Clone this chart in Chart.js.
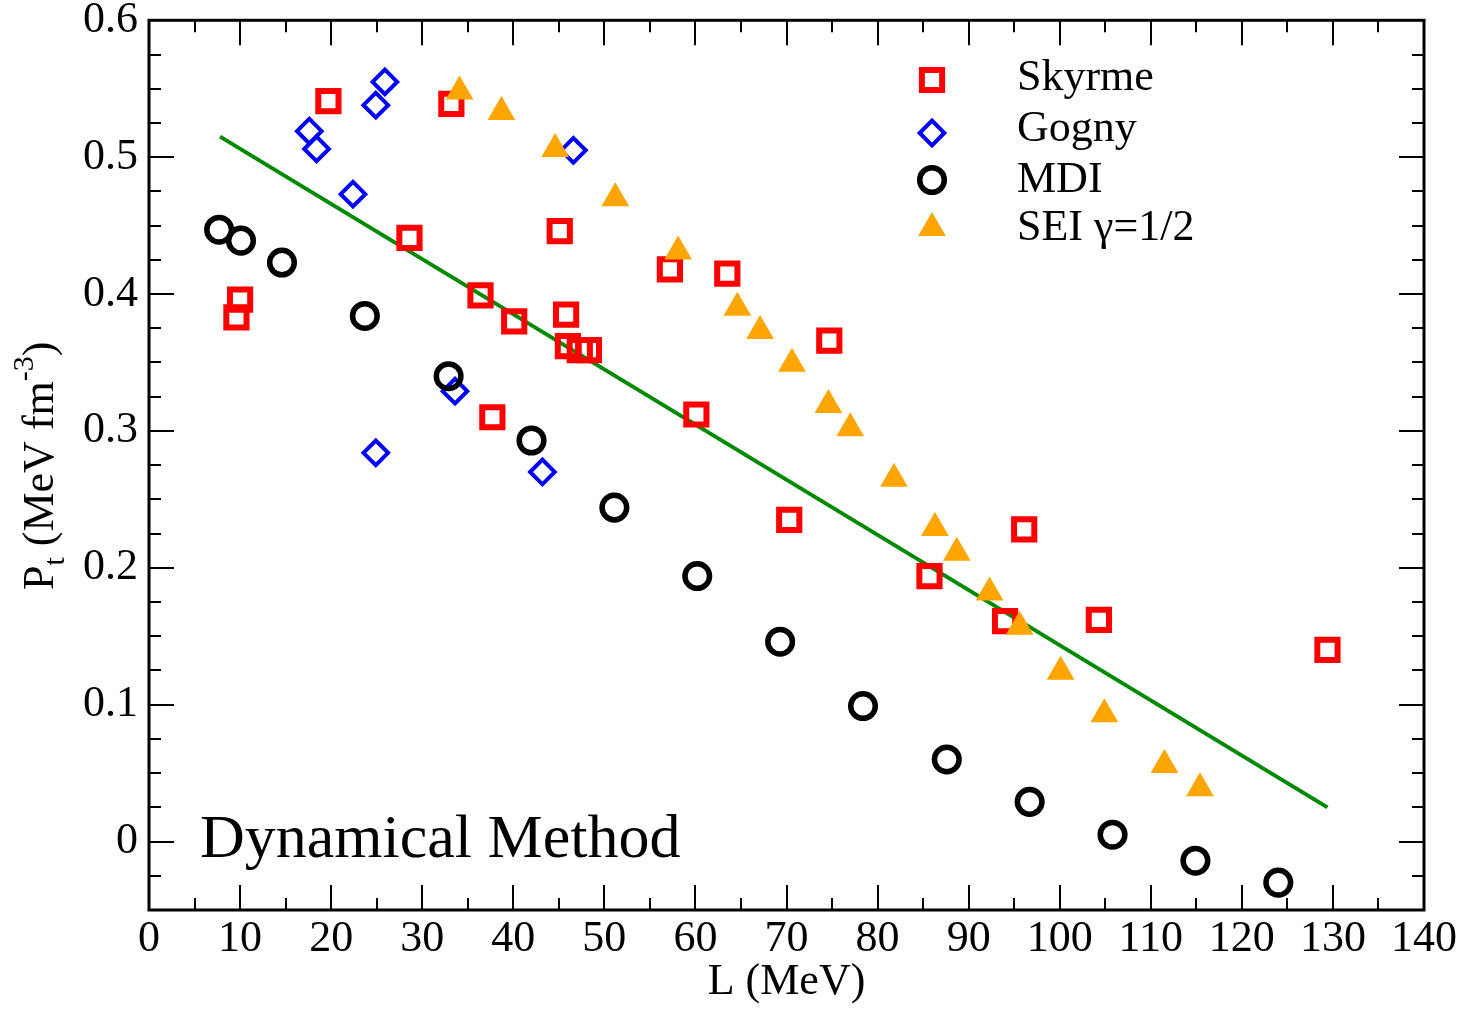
<!DOCTYPE html>
<html>
<head>
<meta charset="utf-8">
<script src="https://cdn.jsdelivr.net/npm/chart.js@4/dist/chart.umd.min.js"></script>
<style>
html,body{margin:0;padding:0;background:#fff;}
#wrap{width:1461px;height:1009px;}
</style>
</head>
<body>
<div id="wrap"><canvas id="c" width="1461" height="1009"></canvas></div>
<script>
// ---- data ----
const seriesNames = ['Skyrme', 'Gogny', 'MDI', 'SEI \u03b3=1/2'];

const skyrmeL = [9.6, 10.0, 19.7, 28.6, 33.2, 36.4, 40.1, 37.7, 45.1, 45.8, 46.0, 47.3, 48.3, 57.2, 60.1, 63.5, 70.3, 74.7, 85.7, 96.1, 94.0, 104.3, 129.4];
const skyrmeP = [0.383, 0.396, 0.541, 0.441, 0.539, 0.399, 0.380, 0.310, 0.446, 0.385, 0.362, 0.359, 0.359, 0.418, 0.312, 0.415, 0.235, 0.366, 0.194, 0.228, 0.161, 0.162, 0.140];

const gognyL = [25.9, 24.9, 17.6, 18.4, 22.4, 46.6, 33.6, 24.9, 43.2];
const gognyP = [0.555, 0.538, 0.519, 0.506, 0.473, 0.505, 0.329, 0.284, 0.270];

const mdiL = [7.7, 10.1, 14.6, 23.7, 32.9, 42.0, 51.1, 60.2, 69.3, 78.4, 87.6, 96.7, 105.8, 114.9, 124.0];
const mdiP = [0.447, 0.439, 0.423, 0.384, 0.340, 0.293, 0.244, 0.194, 0.146, 0.099, 0.060, 0.029, 0.005, -0.014, -0.030];

const seiL = [34.1, 38.7, 44.6, 51.2, 58.1, 64.6, 67.1, 70.6, 74.6, 77.0, 81.8, 86.3, 88.7, 92.3, 95.6, 100.1, 104.9, 111.5, 115.4];
const seiP = [0.548, 0.533, 0.506, 0.470, 0.431, 0.390, 0.373, 0.349, 0.319, 0.302, 0.265, 0.229, 0.211, 0.182, 0.157, 0.124, 0.093, 0.056, 0.039];

const fitL = [7.8, 129.4];
const fitP = [0.515, 0.025];

const xTickValues = [0, 10, 20, 30, 40, 50, 60, 70, 80, 90, 100, 110, 120, 130, 140];
const yTickValues = [0, 0.1, 0.2, 0.3, 0.4, 0.5, 0.6];
const xMinorStep = 5;
const yMinorStep = 0.025;

const xTitle = 'L (MeV)';
const annotationText = 'Dynamical Method';

// ---- helpers ----
const FAMILY = "'Liberation Serif', 'Times New Roman', Times, serif";
function zip(xs, ys) { return xs.map((x, i) => ({ x: x, y: ys[i] })); }

const datasets = [
  { label: seriesNames[0], data: zip(skyrmeL, skyrmeP), pointStyle: 'rect', pointRadius: 14.3,
    borderColor: '#ff0000', backgroundColor: 'rgba(0,0,0,0)', borderWidth: 6, showLine: false, order: 4 },
  { label: seriesNames[1], data: zip(gognyL, gognyP), pointStyle: 'rectRot', pointRadius: 12.3,
    borderColor: '#0000ff', backgroundColor: 'rgba(0,0,0,0)', borderWidth: 4, showLine: false, order: 3 },
  { label: seriesNames[2], data: zip(mdiL, mdiP), pointStyle: 'circle', pointRadius: 12.3,
    borderColor: '#000000', backgroundColor: 'rgba(0,0,0,0)', borderWidth: 5.5, showLine: false, order: 2 },
  { label: seriesNames[3], data: zip(seiL, seiP), pointStyle: 'triangle', pointRadius: 16,
    borderColor: '#ffa500', backgroundColor: '#ffa500', borderWidth: 0, showLine: false, order: 1 },
  { type: 'line', label: 'fit', data: zip(fitL, fitP), borderColor: '#008a00', borderWidth: 4,
    pointRadius: 0, fill: false, tension: 0, order: 5 }
];

// frame with inward ticks, y title, legend, annotation
const decorPlugin = {
  id: 'decor',
  afterDraw(chart) {
    const ctx = chart.ctx;
    const a = chart.chartArea;
    const xs = chart.scales.x, ys = chart.scales.y;
    ctx.save();
    // ticks
    ctx.strokeStyle = '#000';
    ctx.lineWidth = 2;
    const MAJ = 25, MIN = 12;
    const x0 = xs.min, x1 = xs.max;
    const nx = Math.round((x1 - x0) / xMinorStep);
    for (let i = 0; i <= nx; i++) {
      const v = x0 + i * xMinorStep;
      const isMaj = xTickValues.some(t => Math.abs(t - v) < 1e-9);
      const len = isMaj ? MAJ : MIN;
      const px = Math.round(xs.getPixelForValue(v));
      ctx.beginPath();
      ctx.moveTo(px, a.bottom); ctx.lineTo(px, a.bottom - len);
      ctx.moveTo(px, a.top); ctx.lineTo(px, a.top + len);
      ctx.stroke();
    }
    const iy0 = Math.ceil(ys.min / yMinorStep - 1e-9), iy1 = Math.floor(ys.max / yMinorStep + 1e-9);
    for (let i = iy0; i <= iy1; i++) {
      const v = i * yMinorStep;
      const isMaj = yTickValues.some(t => Math.abs(t - v) < 1e-9);
      const len = isMaj ? MAJ : MIN;
      const py = Math.round(ys.getPixelForValue(v));
      ctx.beginPath();
      ctx.moveTo(a.left, py); ctx.lineTo(a.left + len, py);
      ctx.moveTo(a.right, py); ctx.lineTo(a.right - len, py);
      ctx.stroke();
    }
    // frame
    ctx.lineWidth = 3;
    ctx.strokeRect(a.left, a.top, a.right - a.left, a.bottom - a.top);

    // y axis title with subscript / superscript
    ctx.save();
    ctx.translate(53, 590);
    ctx.rotate(-Math.PI / 2);
    ctx.fillStyle = '#000';
    ctx.textBaseline = 'alphabetic';
    ctx.textAlign = 'left';
    let cx = 0;
    const big = "44px " + FAMILY, small = "30px " + FAMILY;
    ctx.font = big; ctx.fillText('P', cx, 0); cx += ctx.measureText('P').width;
    ctx.font = small; ctx.fillText('t', cx, 11); cx += ctx.measureText('t').width;
    ctx.font = big; ctx.fillText(' (MeV fm', cx, 0); cx += ctx.measureText(' (MeV fm').width;
    ctx.font = small; ctx.fillText('-3', cx, -20); cx += ctx.measureText('-3').width;
    ctx.font = big; ctx.fillText(')', cx, 0);
    ctx.restore();

    // legend
    const legX = 932, legTextX = 1017;
    const rowY = [80, 133, 180, 228];
    const textY = [90, 141, 192, 240];
    for (let i = 0; i < 4; i++) {
      const ds = chart.data.datasets[i];
      ctx.save();
      ctx.strokeStyle = ds.borderColor;
      ctx.fillStyle = ds.backgroundColor;
      ctx.lineWidth = ds.borderWidth;
      Chart.helpers.drawPoint(ctx, { pointStyle: ds.pointStyle, radius: ds.pointRadius, rotation: 0, borderWidth: ds.borderWidth }, legX, rowY[i]);
      ctx.restore();
      ctx.fillStyle = '#000';
      ctx.font = "44px " + FAMILY;
      ctx.textAlign = 'left';
      ctx.textBaseline = 'alphabetic';
      ctx.fillText(ds.label, legTextX, textY[i]);
    }

    // annotation
    ctx.fillStyle = '#000';
    ctx.font = "62px " + FAMILY;
    ctx.textAlign = 'left';
    ctx.textBaseline = 'alphabetic';
    ctx.fillText(annotationText, 200, 857);
    ctx.restore();
  }
};

new Chart(document.getElementById('c').getContext('2d'), {
  type: 'scatter',
  data: { datasets: datasets },
  options: {
    responsive: false,
    animation: false,
    devicePixelRatio: 1,
    layout: { padding: { top: 18, right: 37, left: 0, bottom: 0 } },
    plugins: { legend: { display: false }, tooltip: { enabled: false } },
    elements: { line: { borderCapStyle: 'butt' } },
    scales: {
      x: {
        type: 'linear', min: 0, max: 140, position: 'bottom',
        afterBuildTicks: s => { s.ticks = xTickValues.map(v => ({ value: v })); },
        afterFit: s => { s.height = 99; s.paddingLeft = 0; s.paddingRight = 0; },
        ticks: { font: { family: FAMILY, size: 44, lineHeight: 1.2 }, color: '#000', padding: 3,
                 maxRotation: 0, autoSkip: false, callback: v => String(v) },
        grid: { display: false, drawTicks: false },
        border: { display: false },
        title: { display: true, text: xTitle, color: '#000', font: { family: FAMILY, size: 44, lineHeight: 1.2 }, padding: 0 }
      },
      y: {
        type: 'linear', min: -0.05, max: 0.6, position: 'left',
        afterBuildTicks: s => { s.ticks = yTickValues.map(v => ({ value: v })); },
        afterFit: s => { s.width = 149; s.paddingTop = 0; s.paddingBottom = 0; },
        ticks: { font: { family: FAMILY, size: 44, lineHeight: 1.2 }, color: '#000', padding: 11,
                 autoSkip: false, callback: v => String(Math.round(v * 10) / 10) },
        grid: { display: false, drawTicks: false },
        border: { display: false }
      }
    }
  },
  plugins: [decorPlugin]
});
</script>
</body>
</html>
